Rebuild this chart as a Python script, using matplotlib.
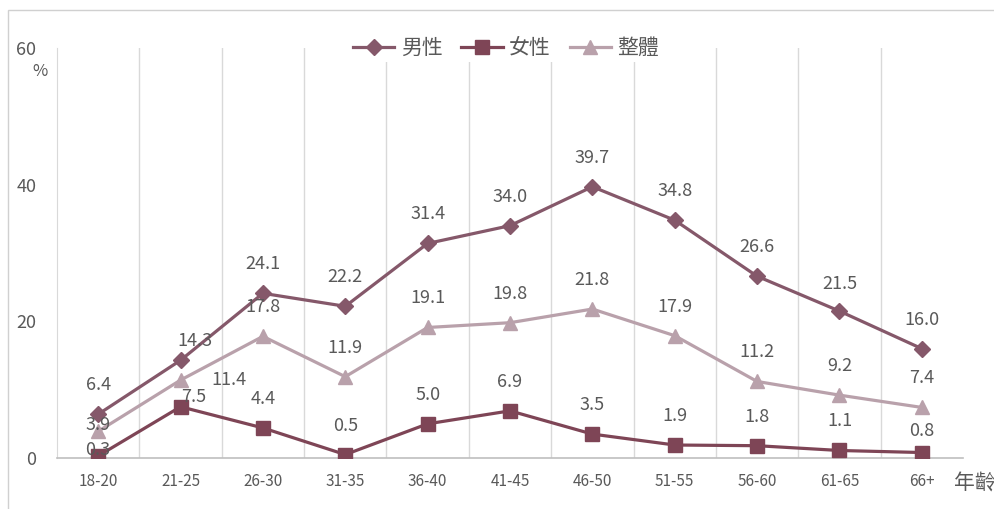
import matplotlib
matplotlib.use("Agg")
import matplotlib.pyplot as plt
from matplotlib.patches import Rectangle

plt.rcParams['font.family'] = ['Noto Sans CJK TC', 'DejaVu Sans']

categories = ["18-20", "21-25", "26-30", "31-35", "36-40", "41-45",
              "46-50", "51-55", "56-60", "61-65", "66+"]
male = [6.4, 14.3, 24.1, 22.2, 31.4, 34.0, 39.7, 34.8, 26.6, 21.5, 16.0]
female = [0.3, 7.5, 4.4, 0.5, 5.0, 6.9, 3.5, 1.9, 1.8, 1.1, 0.8]
overall = [3.9, 11.4, 17.8, 11.9, 19.1, 19.8, 21.8, 17.9, 11.2, 9.2, 7.4]
series_names = ["男性", "女性", "整體"]
yticks = [0, 20, 40, 60]

c_male = "#85586A"
c_female = "#7E4556"
c_overall = "#B9A1AB"
txt = "#595959"

fig = plt.figure(figsize=(9.95, 5.09), dpi=100)
fig.add_artist(Rectangle((8/995, -0.05), 1.0, 1.05 - 10/509, transform=fig.transFigure,
                         fill=False, edgecolor="#D0D0D0", lw=1.0))
ax = fig.add_axes([57/995, 51/509, (963-57)/995, (461-51)/509])

x = list(range(len(categories)))
ax.plot(x, male, color=c_male, lw=2.3, marker="D", ms=8, label=series_names[0], zorder=4)
ax.plot(x, female, color=c_female, lw=2.3, marker="s", ms=10.5, label=series_names[1], zorder=3)
ax.plot(x, overall, color=c_overall, lw=2.3, marker="^", ms=10.5, label=series_names[2], zorder=2)

ax.set_xlim(-0.5, len(categories) - 0.5)
ax.set_ylim(0, 60)
ax.set_xticks(x)
ax.set_xticklabels(categories, fontsize=11, color=txt)
ax.set_xticks([i + 0.5 for i in x[:-1]], minor=True)
ax.tick_params(axis="x", which="both", length=0, pad=11)
ax.grid(axis="x", which="minor", color="#D9D9D9", lw=1)
ax.set_yticks(yticks)
ax.set_yticklabels([str(v) for v in yticks], fontsize=13, color=txt)
ax.tick_params(axis="y", length=0, pad=15)
for s in ["top", "right"]:
    ax.spines[s].set_visible(False)
ax.spines["left"].set_color("#D9D9D9")
ax.spines["bottom"].set_color("#BFBFBF")
ax.spines["bottom"].set_linewidth(1.2)
ax.set_axisbelow(True)

default = (0, 29)
special = {
    ("m", 1): (14, 19),
    ("o", 1): (48, 0),
    ("f", 1): (13, 10),
    ("o", 0): (0, 6),
    ("f", 0): (0, 6),
    ("m", 9): (0, 27),
    ("f", 10): (0, 22),
}
for key, data in (("m", male), ("f", female), ("o", overall)):
    for i, v in enumerate(data):
        dx, dy = special.get((key, i), default)
        ax.annotate(f"{v:.1f}", (i, v), xytext=(dx * 0.72, dy * 0.72), textcoords="offset points",
                    ha="center", va="center", fontsize=13, color=txt, zorder=6)

fig.text(40/995, 437/509, "%", fontsize=12, color=txt, ha="center", va="center")
fig.text(975/995, 26/509, "年齡", fontsize=15, color=txt, ha="center", va="center")

leg = ax.legend(loc="center", bbox_to_anchor=(506/995, 461/509), bbox_transform=fig.transFigure,
                ncol=3, frameon=True, fontsize=15, handlelength=2.0, columnspacing=0.9,
                handletextpad=0.3, borderpad=0.15)
leg.get_frame().set_edgecolor("none")
leg.get_frame().set_facecolor("white")
leg.get_frame().set_alpha(1)
for t in leg.get_texts():
    t.set_color(txt)

fig.savefig("out.png", dpi=100)
